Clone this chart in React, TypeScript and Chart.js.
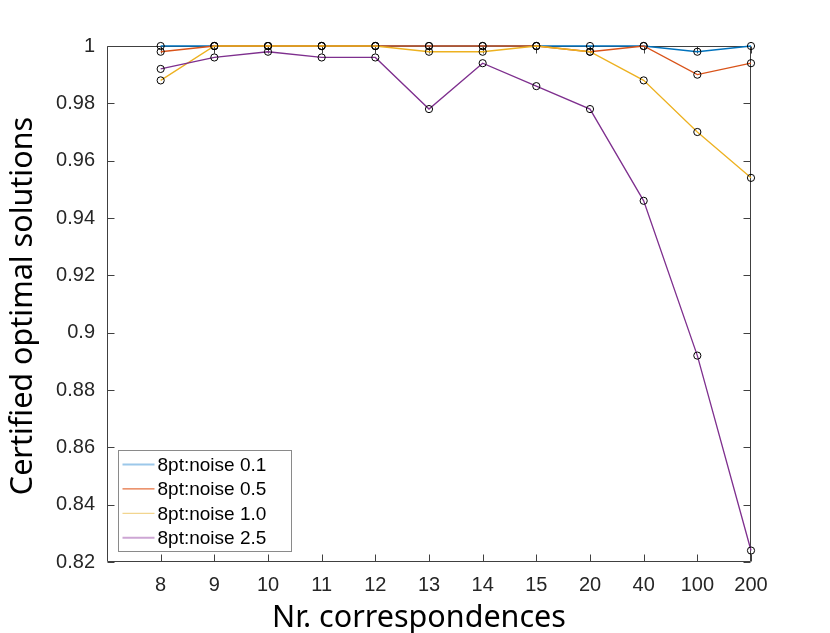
import { useEffect, useRef } from 'react';
import { Chart, registerables } from 'chart.js';

Chart.register(...registerables);

const categories = ['8', '9', '10', '11', '12', '13', '14', '15', '20', '40', '100', '200'];
const yTicks = [0.82, 0.84, 0.86, 0.88, 0.9, 0.92, 0.94, 0.96, 0.98, 1];
const seriesNames = ['8pt:noise 0.1', '8pt:noise 0.5', '8pt:noise 1.0', '8pt:noise 2.5'];
const noise01 = [1, 1, 1, 1, 1, 1, 1, 1, 1, 1, 0.998, 1];
const noise05 = [0.998, 1, 1, 1, 1, 1, 1, 1, 0.998, 1, 0.99, 0.994];
const noise10 = [0.988, 1, 1, 1, 1, 0.998, 0.998, 1, 0.998, 0.988, 0.97, 0.954];
const noise25 = [0.992, 0.996, 0.998, 0.996, 0.996, 0.978, 0.994, 0.986, 0.978, 0.946, 0.892, 0.824];

const seriesValues = [noise01, noise05, noise10, noise25];
const lineColors = ['#0072BD', '#D95319', '#EDB120', '#7E2F8E'];
const legendColors = ['#9CC8EA', '#E5703F', '#F2D58F', '#CDA6D4'];
const legendWidths = [2, 1.2, 1.2, 2];

const xTitle = 'Nr. correspondences';
const yTitle = 'Certified optimal solutions';

const matlabPlugin = {
  id: 'matlabAxes',
  beforeDatasetsDraw(chart: any) {
    const { ctx, chartArea: a, scales } = chart;
    const x = scales.x;
    const y = scales.y;
    ctx.save();
    ctx.strokeStyle = '#404040';
    ctx.lineWidth = 1;
    const L = Math.round(a.left) + 0.5;
    const R = Math.round(a.right) - 0.5;
    const T = Math.round(a.top) + 0.5;
    const B = Math.round(a.bottom) - 0.5;
    ctx.beginPath();
    ctx.rect(L, T, R - L, B - T);
    ctx.stroke();
    const tl = 7;
    ctx.beginPath();
    x.ticks.forEach((t: any) => {
      const px = Math.round(x.getPixelForValue(t.value)) + 0.5;
      ctx.moveTo(px, B);
      ctx.lineTo(px, B - tl);
      ctx.moveTo(px, T);
      ctx.lineTo(px, T + tl);
    });
    y.ticks.forEach((t: any) => {
      const py = Math.round(y.getPixelForValue(t.value)) + 0.5;
      ctx.moveTo(L, py);
      ctx.lineTo(L + tl, py);
      ctx.moveTo(R, py);
      ctx.lineTo(R - tl, py);
    });
    ctx.stroke();
    ctx.restore();
  },
  afterDraw(chart: any) {
    const { ctx, chartArea: a } = chart;
    ctx.save();
    // axis titles
    ctx.fillStyle = '#000';
    ctx.font = '30.5px "Noto Sans"';
    ctx.textAlign = 'center';
    ctx.textBaseline = 'alphabetic';
    ctx.fillText(xTitle, (a.left + a.right) / 2 - 10, 627);
    ctx.save();
    ctx.translate(32, (a.top + a.bottom) / 2 + 2);
    ctx.rotate(-Math.PI / 2);
    ctx.fillText(yTitle, 0, 0);
    ctx.restore();

    // legend
    const bx = a.left + 11.5;
    const by = 450.5;
    const bw = 173;
    const bh = 101;
    ctx.fillStyle = '#fff';
    ctx.fillRect(bx, by, bw, bh);
    ctx.strokeStyle = '#8a8a8a';
    ctx.lineWidth = 1;
    ctx.strokeRect(bx, by, bw, bh);
    ctx.font = '19px "Liberation Sans"';
    ctx.textAlign = 'left';
    ctx.textBaseline = 'middle';
    seriesNames.forEach((name, i) => {
      const ry = 464.5 + i * 24.4;
      ctx.strokeStyle = legendColors[i];
      ctx.lineWidth = legendWidths[i];
      ctx.beginPath();
      ctx.moveTo(bx + 4, ry);
      ctx.lineTo(bx + 36, ry);
      ctx.stroke();
      ctx.fillStyle = '#000';
      ctx.fillText(name, bx + 39, ry + 1);
    });
    ctx.restore();
  },
};

export default function App() {
  const ref = useRef<HTMLCanvasElement>(null);

  useEffect(() => {
    const datasets = seriesValues.map((vals, si) => ({
      label: seriesNames[si],
      data: vals.map((v, i) => ({ x: i + 1, y: v })),
      borderColor: lineColors[si],
      backgroundColor: lineColors[si],
      borderWidth: 1.3,
      pointRadius: 3.6,
      pointBorderWidth: 1,
      pointBorderColor: '#000',
      pointBackgroundColor: 'rgba(0,0,0,0)',
      pointHoverRadius: 3.6,
      tension: 0,
      fill: false,
      clip: false as any,
      order: 4 - si,
    }));

    const chart = new Chart(ref.current!, {
      type: 'line',
      data: { datasets },
      plugins: [matlabPlugin],
      options: {
        animation: false,
        responsive: false,
        events: [],
        layout: { padding: { top: 46, right: 79, left: 0, bottom: 0 } },
        plugins: { legend: { display: false }, tooltip: { enabled: false } },
        scales: {
          x: {
            type: 'linear',
            min: 0,
            max: categories.length,
            grid: { display: false, drawTicks: false },
            border: { display: false },
            afterBuildTicks: (s: any) => {
              s.ticks = categories.map((_, i) => ({ value: i + 1 }));
            },
            afterFit: (s: any) => {
              s.height = 71;
            },
            ticks: {
              autoSkip: false,
              maxRotation: 0,
              padding: 11,
              color: '#262626',
              font: { family: '"Liberation Sans"', size: 20 },
              callback: (v: any) => categories[Math.round(Number(v)) - 1] ?? '',
            },
          },
          y: {
            type: 'linear',
            min: 0.82,
            max: 1,
            grid: { display: false, drawTicks: false },
            border: { display: false },
            afterBuildTicks: (s: any) => {
              s.ticks = yTicks.map((v) => ({ value: v }));
            },
            afterFit: (s: any) => {
              s.width = 107;
            },
            ticks: {
              padding: 12,
              color: '#262626',
              font: { family: '"Liberation Sans"', size: 20 },
              callback: (v: any) => String(+Number(v).toFixed(2)),
            },
          },
        },
      },
    });
    return () => chart.destroy();
  }, []);

  return (
    <div style={{ position: 'absolute', left: 0, top: 0, width: 830, height: 633 }}>
      <canvas ref={ref} width={830} height={633} style={{ display: 'block', width: 830, height: 633 }} />
    </div>
  );
}
